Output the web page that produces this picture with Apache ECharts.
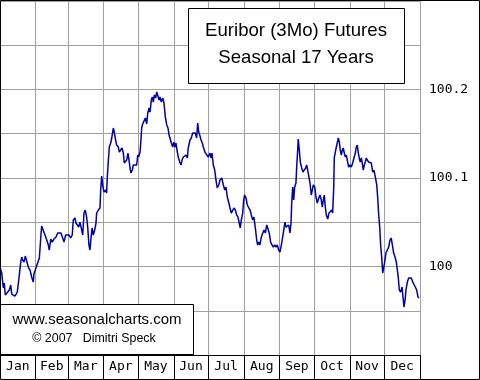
<!DOCTYPE html>
<html>
<head>
<meta charset="utf-8">
<script src="https://cdn.jsdelivr.net/npm/echarts@6/dist/echarts.min.js"></script>
<style>
html,body{margin:0;padding:0;background:#fff;}
#chart{width:480px;height:380px;}
</style>
</head>
<body>
<div id="chart"></div>
<script>
// Day of year (0 = Jan 1) and seasonal price pattern
const days = [0,1.5,2.9,3.7,4.6,6.3,8.1,9.3,10.2,11.6,13.0,13.9,15.0,16.5,18.0,18.9,19.7,20.9,22.0,23.2,24.6,26.1,27.5,28.9,29.5,31.0,32.4,34.2,35.4,36.2,37.6,39.1,40.6,42.0,42.8,44.1,45.4,46.9,48.7,50.1,51.5,53.0,54.5,55.6,57.1,58.5,60.0,61.4,62.8,63.7,65.2,66.0,67.2,68.4,69.5,71.0,71.9,73.0,74.1,75.3,76.2,77.3,78.2,79.1,80.0,81.1,82.3,83.4,84.0,85.4,86.9,87.5,88.4,89.2,90.4,91.9,92.7,93.2,94.1,95.0,96.2,97.1,98.5,99.3,100.5,101.4,102.8,103.7,104.9,106.0,107.2,108.0,109.2,110.1,111.2,112.1,113.0,113.8,115.0,115.8,117.3,118.8,119.7,120.5,121.7,122.5,123.1,124.0,125.1,126.3,127.5,128.4,129.5,130.4,131.5,132.4,133.2,134.1,135.3,136.2,137.0,138.2,139.0,140.2,141.4,142.5,143.7,144.9,146.0,146.9,147.7,148.9,150.1,151.0,152.1,152.9,154.1,154.9,156.2,157.3,158.2,159.3,160.5,161.6,162.8,163.6,165.1,166.2,167.5,168.6,169.7,170.9,171.8,172.7,173.8,174.7,175.8,176.7,178.1,179.6,181.0,182.5,183.4,184.2,185.4,186.6,187.7,188.8,190.1,191.2,192.7,194.1,195.3,196.4,197.5,198.7,199.9,201.0,202.2,203.3,204.5,205.7,206.8,208.0,208.8,209.7,210.9,211.8,212.6,213.8,214.9,216.1,217.3,218.4,219.6,220.7,221.9,223.1,223.9,224.8,225.9,227.1,228.3,229.4,230.6,231.8,232.9,234.0,235.2,236.4,237.5,238.7,239.8,241.0,242.2,243.3,244.8,246.2,247.7,248.5,249.7,250.9,252.0,252.9,253.5,254.4,255.2,256.1,257.2,257.8,258.7,259.2,260.1,261.0,262.2,263.3,264.4,265.7,266.5,267.4,268.5,269.4,270.5,271.4,272.3,273.5,274.6,275.7,277.0,278.1,279.2,280.1,281.0,281.8,282.7,283.6,284.8,285.9,287.0,288.3,289.1,290.0,290.5,291.4,292.3,293.1,294.0,294.9,295.7,296.6,297.5,298.3,299.2,300.1,300.9,301.8,303.0,304.2,305.3,306.5,307.6,308.8,309.6,310.5,311.4,312.2,313.1,314.0,314.8,315.7,316.6,317.5,318.3,319.2,320.4,321.5,322.7,323.9,325.0,326.2,327.4,328.2,329.1,330.0,330.8,331.7,332.6,333.4,334.3,335.4,336.6,337.8,338.9,340.0,341.3,342.1,343.3,344.4,345.3,346.1,347.0,348.2,349.4,350.2,351.1,352.0,352.8,354.0,355.2,356.3,357.4,358.7,359.8,360.9,362.1,363.3,364.1];
const prices = [99.9994,99.9926,99.9757,99.9813,99.9678,99.9689,99.9734,99.9791,99.9689,99.9678,99.9666,99.9644,99.9711,99.9870,100.0050,100.0107,100.0073,100.0050,100.0118,100.0096,99.9994,99.9960,99.9881,99.9824,99.9915,99.9937,100.0028,100.0096,100.0322,100.0457,100.0435,100.0356,100.0299,100.0243,100.0186,100.0310,100.0276,100.0310,100.0333,100.0378,100.0356,100.0378,100.0322,100.0276,100.0356,100.0378,100.0356,100.0322,100.0356,100.0525,100.0548,100.0491,100.0502,100.0446,100.0502,100.0412,100.0356,100.0604,100.0638,100.0559,100.0446,100.0243,100.0186,100.0322,100.0435,100.0356,100.0412,100.0491,100.0604,100.0638,100.0661,100.0864,100.1022,100.0921,100.0841,100.0864,100.0830,100.1000,100.1180,100.1350,100.1395,100.1452,100.1565,100.1519,100.1429,100.1373,100.1350,100.1293,100.1282,100.1339,100.1282,100.1169,100.1147,100.1203,100.1282,100.1203,100.1113,100.1056,100.1090,100.1147,100.1169,100.1147,100.1260,100.1237,100.1293,100.1429,100.1565,100.1610,100.1632,100.1678,100.1610,100.1734,100.1791,100.1745,100.1881,100.1915,100.1858,100.1938,100.1904,100.1972,100.1938,100.1881,100.1915,100.1858,100.1904,100.1847,100.1689,100.1599,100.1565,100.1486,100.1452,100.1395,100.1350,100.1406,100.1350,100.1395,100.1293,100.1237,100.1180,100.1147,100.1203,100.1237,100.1226,100.1260,100.1226,100.1339,100.1429,100.1452,100.1508,100.1486,100.1508,100.1452,100.1621,100.1519,100.1474,100.1429,100.1395,100.1350,100.1293,100.1282,100.1237,100.1282,100.1226,100.1282,100.1147,100.1090,100.0977,100.0887,100.0921,100.0977,100.1000,100.0921,100.0864,100.0898,100.0785,100.0728,100.0661,100.0604,100.0604,100.0661,100.0638,100.0582,100.0559,100.0548,100.0435,100.0525,100.0604,100.0751,100.0808,100.0774,100.0695,100.0717,100.0638,100.0582,100.0525,100.0559,100.0435,100.0299,100.0243,100.0276,100.0243,100.0333,100.0322,100.0412,100.0378,100.0469,100.0469,100.0378,100.0276,100.0243,100.0220,100.0243,100.0220,100.0243,100.0186,100.0163,100.0265,100.0378,100.0502,100.0446,100.0435,100.0469,100.0378,100.0491,100.0717,100.0898,100.0751,100.0898,100.0943,100.1113,100.1316,100.1440,100.1316,100.1180,100.1113,100.1067,100.1090,100.1113,100.1147,100.1090,100.1011,100.0943,100.0808,100.0864,100.0921,100.0898,100.0785,100.0717,100.0774,100.0808,100.0751,100.0672,100.0751,100.0808,100.0672,100.0582,100.0536,100.0604,100.0615,100.0638,100.0604,100.0887,100.1226,100.1293,100.1350,100.1395,100.1452,100.1406,100.1316,100.1260,100.1316,100.1339,100.1282,100.1237,100.1260,100.1203,100.1124,100.1147,100.1124,100.1169,100.1226,100.1282,100.1350,100.1373,100.1282,100.1226,100.1180,100.1226,100.1169,100.1090,100.1147,100.1180,100.1226,100.1203,100.1180,100.1169,100.1169,100.1067,100.1090,100.1011,100.0921,100.0785,100.0582,100.0446,100.0243,100.0107,99.9926,99.9983,100.0050,100.0152,100.0186,100.0220,100.0299,100.0322,100.0220,100.0152,100.0107,100.0050,100.0039,99.9881,99.9734,99.9711,99.9768,99.9655,99.9542,99.9621,99.9734,99.9824,99.9870,99.9881,99.9870,99.9824,99.9824,99.9768,99.9734,99.9655,99.9644];

const monthNames = ['Jan','Feb','Mar','Apr','May','Jun','Jul','Aug','Sep','Oct','Nov','Dec'];
const monthStarts = [0,31,59,90,120,151,181,212,243,273,304,334,365];
const yLabelValues = [100, 100.1, 100.2];

const monthMids = monthNames.map((m, i) => (monthStarts[i] + monthStarts[i + 1]) / 2);
const seriesData = days.map((d, i) => [d, prices[i]]);

const chart = echarts.init(document.getElementById('chart'), null, {renderer: 'canvas'});
const mono = '"DejaVu Sans Mono", monospace';
const sans = '"Liberation Sans", Arial, sans-serif';

chart.setOption({
  animation: false,
  backgroundColor: '#ffffff',
  grid: {left: 0, right: 60, top: 1, bottom: 25, containLabel: false},
  xAxis: {
    type: 'value', min: 0, max: 365,
    axisLine: {show: true, lineStyle: {color: '#000', width: 1}},
    axisTick: {show: true, customValues: monthStarts, length: 24, inside: false, lineStyle: {color: '#000', width: 1}},
    splitLine: {show: true, lineStyle: {color: '#a0a0a0', width: 1}},
    axisLabel: {
      customValues: monthMids, margin: 12, verticalAlign: 'middle',
      color: '#000', fontFamily: mono, fontSize: 13,
      formatter: v => { const i = monthMids.indexOf(v); return i >= 0 ? monthNames[i] : ''; }
    }
  },
  yAxis: {
    type: 'value', position: 'right', min: 99.9, max: 100.3, interval: 0.05,
    axisLine: {show: false}, axisTick: {show: false},
    splitLine: {show: true, lineStyle: {color: '#a0a0a0', width: 1}},
    axisLabel: {
      customValues: yLabelValues, margin: 9, color: '#000', fontFamily: mono, fontSize: 13,
      formatter: v => (Math.abs(v - Math.round(v)) < 1e-6 ? String(Math.round(v)) : v.toFixed(1))
    }
  },
  series: [{
    type: 'line', data: seriesData, showSymbol: false, smooth: false,
    lineStyle: {color: '#0000a8', width: 1.5},
    z: 5
  }],
  graphic: [
    {type: 'rect', z: 100, shape: {x: 188.5, y: 8.5, width: 216, height: 75},
     style: {fill: '#fff', stroke: '#000', lineWidth: 1}},
    {type: 'text', z: 101, style: {text: 'Euribor (3Mo) Futures', x: 296, y: 30.5, font: '18.6px ' + sans, fill: '#000', textAlign: 'center', textVerticalAlign: 'middle'}},
    {type: 'text', z: 101, style: {text: 'Seasonal 17 Years', x: 296, y: 57.5, font: '18.6px ' + sans, fill: '#000', textAlign: 'center', textVerticalAlign: 'middle'}},
    {type: 'rect', z: 100, shape: {x: 0.5, y: 304.5, width: 193, height: 50},
     style: {fill: '#fff', stroke: '#000', lineWidth: 1}},
    {type: 'text', z: 101, style: {text: 'www.seasonalcharts.com', x: 97, y: 320, font: '15px ' + sans, fill: '#000', textAlign: 'center', textVerticalAlign: 'middle'}},
    {type: 'text', z: 101, style: {text: '\u00a9 2007   Dimitri Speck', x: 94, y: 338.5, font: '12.4px ' + sans, fill: '#000', textAlign: 'center', textVerticalAlign: 'middle'}},
    {type: 'rect', z: 110, shape: {x: 0.5, y: 0.5, width: 479, height: 379},
     style: {fill: 'none', stroke: '#000', lineWidth: 1}}
  ]
});
</script>
</body>
</html>
